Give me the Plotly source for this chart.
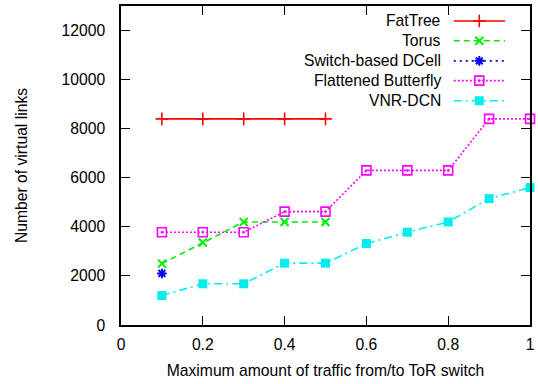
import plotly.graph_objects as go

# ---- data ----
x_vals = [0.1, 0.2, 0.3, 0.4, 0.5, 0.6, 0.7, 0.8, 0.9, 1.0]
fattree_x = [0.1, 0.2, 0.3, 0.4, 0.5]
fattree_y = [8400, 8400, 8400, 8400, 8400]
torus_x = [0.1, 0.2, 0.3, 0.4, 0.5]
torus_y = [2500, 3360, 4200, 4200, 4200]
dcell_x = [0.1]
dcell_y = [2100]
fb_y = [3780, 3780, 3780, 4620, 4620, 6300, 6300, 6300, 8400, 8400]
vnr_y = [1200, 1680, 1680, 2520, 2520, 3320, 3780, 4200, 5150, 5600]

series_names = ["FatTree", "Torus", "Switch-based DCell", "Flattened Butterfly", "VNR-DCN"]
x_ticks = [0, 0.2, 0.4, 0.6, 0.8, 1]
x_tick_labels = ["0", "0.2", "0.4", "0.6", "0.8", "1"]
y_ticks = [0, 2000, 4000, 6000, 8000, 10000, 12000]
y_tick_labels = ["0", "2000", "4000", "6000", "8000", "10000", "12000"]

styles = [
    dict(color="#ff0000", dash="solid", symbol="cross-thin-open", size=9, mlw=1.6),
    dict(color="#00ee00", dash="6px,4px", symbol="x-thin-open", size=8, mlw=2),
    dict(color="#0000ff", dash="2px,4px", symbol="asterisk-open", size=8, mlw=2),
    dict(color="#ff00ff", dash="2px,2px", symbol="square-open-dot", size=9, mlw=1.6),
    dict(color="#00eeee", dash="8px,4px,2px,4px", symbol="square", size=9, mlw=0),
]

data_sets = [
    (fattree_x, fattree_y),
    (torus_x, torus_y),
    (dcell_x, dcell_y),
    (x_vals, fb_y),
    (x_vals, vnr_y),
]

font_family = "Liberation Sans, Arial, sans-serif"
fs = 15.7

fig = go.Figure()
for name, (xs, ys), st in zip(series_names, data_sets, styles):
    fig.add_trace(go.Scatter(
        x=xs, y=ys, name=name, mode="lines+markers",
        line=dict(color=st["color"], width=1.6, dash=st["dash"]),
        marker=dict(symbol=st["symbol"], size=st["size"], color=st["color"],
                    line=dict(color=st["color"], width=st["mlw"])),
        showlegend=False, cliponaxis=False,
    ))

# ---- custom gnuplot-style key (text right, sample left-to-right) ----
key_rows = [0.953, 0.891, 0.828, 0.766, 0.703]
sample_x0, sample_xm, sample_x1 = 0.8136, 0.876, 0.939
text_right = 0.787
for name, row, st in zip(series_names, key_rows, styles):
    fig.add_trace(go.Scatter(
        x=[sample_x0, sample_x1], y=[row, row], xaxis="x2", yaxis="y2",
        mode="lines", line=dict(color=st["color"], width=1.6, dash=st["dash"]),
        showlegend=False, hoverinfo="skip",
    ))
    fig.add_trace(go.Scatter(
        x=[sample_xm], y=[row], xaxis="x2", yaxis="y2", mode="markers",
        marker=dict(symbol=st["symbol"], size=st["size"], color=st["color"],
                    line=dict(color=st["color"], width=st["mlw"])),
        showlegend=False, hoverinfo="skip",
    ))
    fig.add_annotation(x=text_right, y=row, xref="paper", yref="paper",
                       text=name, showarrow=False, xanchor="right", yanchor="middle",
                       font=dict(family=font_family, size=fs, color="black"))

axis_common = dict(
    showline=True, linecolor="black", linewidth=1.5, mirror="ticks",
    ticks="inside", ticklen=9, tickwidth=1, tickcolor="black",
    showgrid=False, zeroline=False,
    tickfont=dict(family=font_family, size=fs, color="black"),
)

fig.update_layout(
    width=538, height=384,
    margin=dict(l=121, r=4, t=5, b=59),
    plot_bgcolor="white", paper_bgcolor="white",
    showlegend=False,
    xaxis=dict(range=[0, 1], tickvals=x_ticks, ticktext=x_tick_labels,
               ticklabelstandoff=4,
               title=dict(text="Maximum amount of traffic from/to ToR switch",
                          font=dict(family=font_family, size=fs, color="black"), standoff=13),
               **axis_common),
    yaxis=dict(range=[0, 13000], tickvals=y_ticks, ticktext=y_tick_labels,
               ticklabelstandoff=11,
               title=dict(text="Number of virtual links",
                          font=dict(family=font_family, size=fs, color="black"), standoff=30),
               **axis_common),
    xaxis2=dict(overlaying="x", range=[0, 1], visible=False, domain=[0, 1]),
    yaxis2=dict(overlaying="y", range=[0, 1], visible=False, domain=[0, 1]),
)

fig.write_html("out.html")
